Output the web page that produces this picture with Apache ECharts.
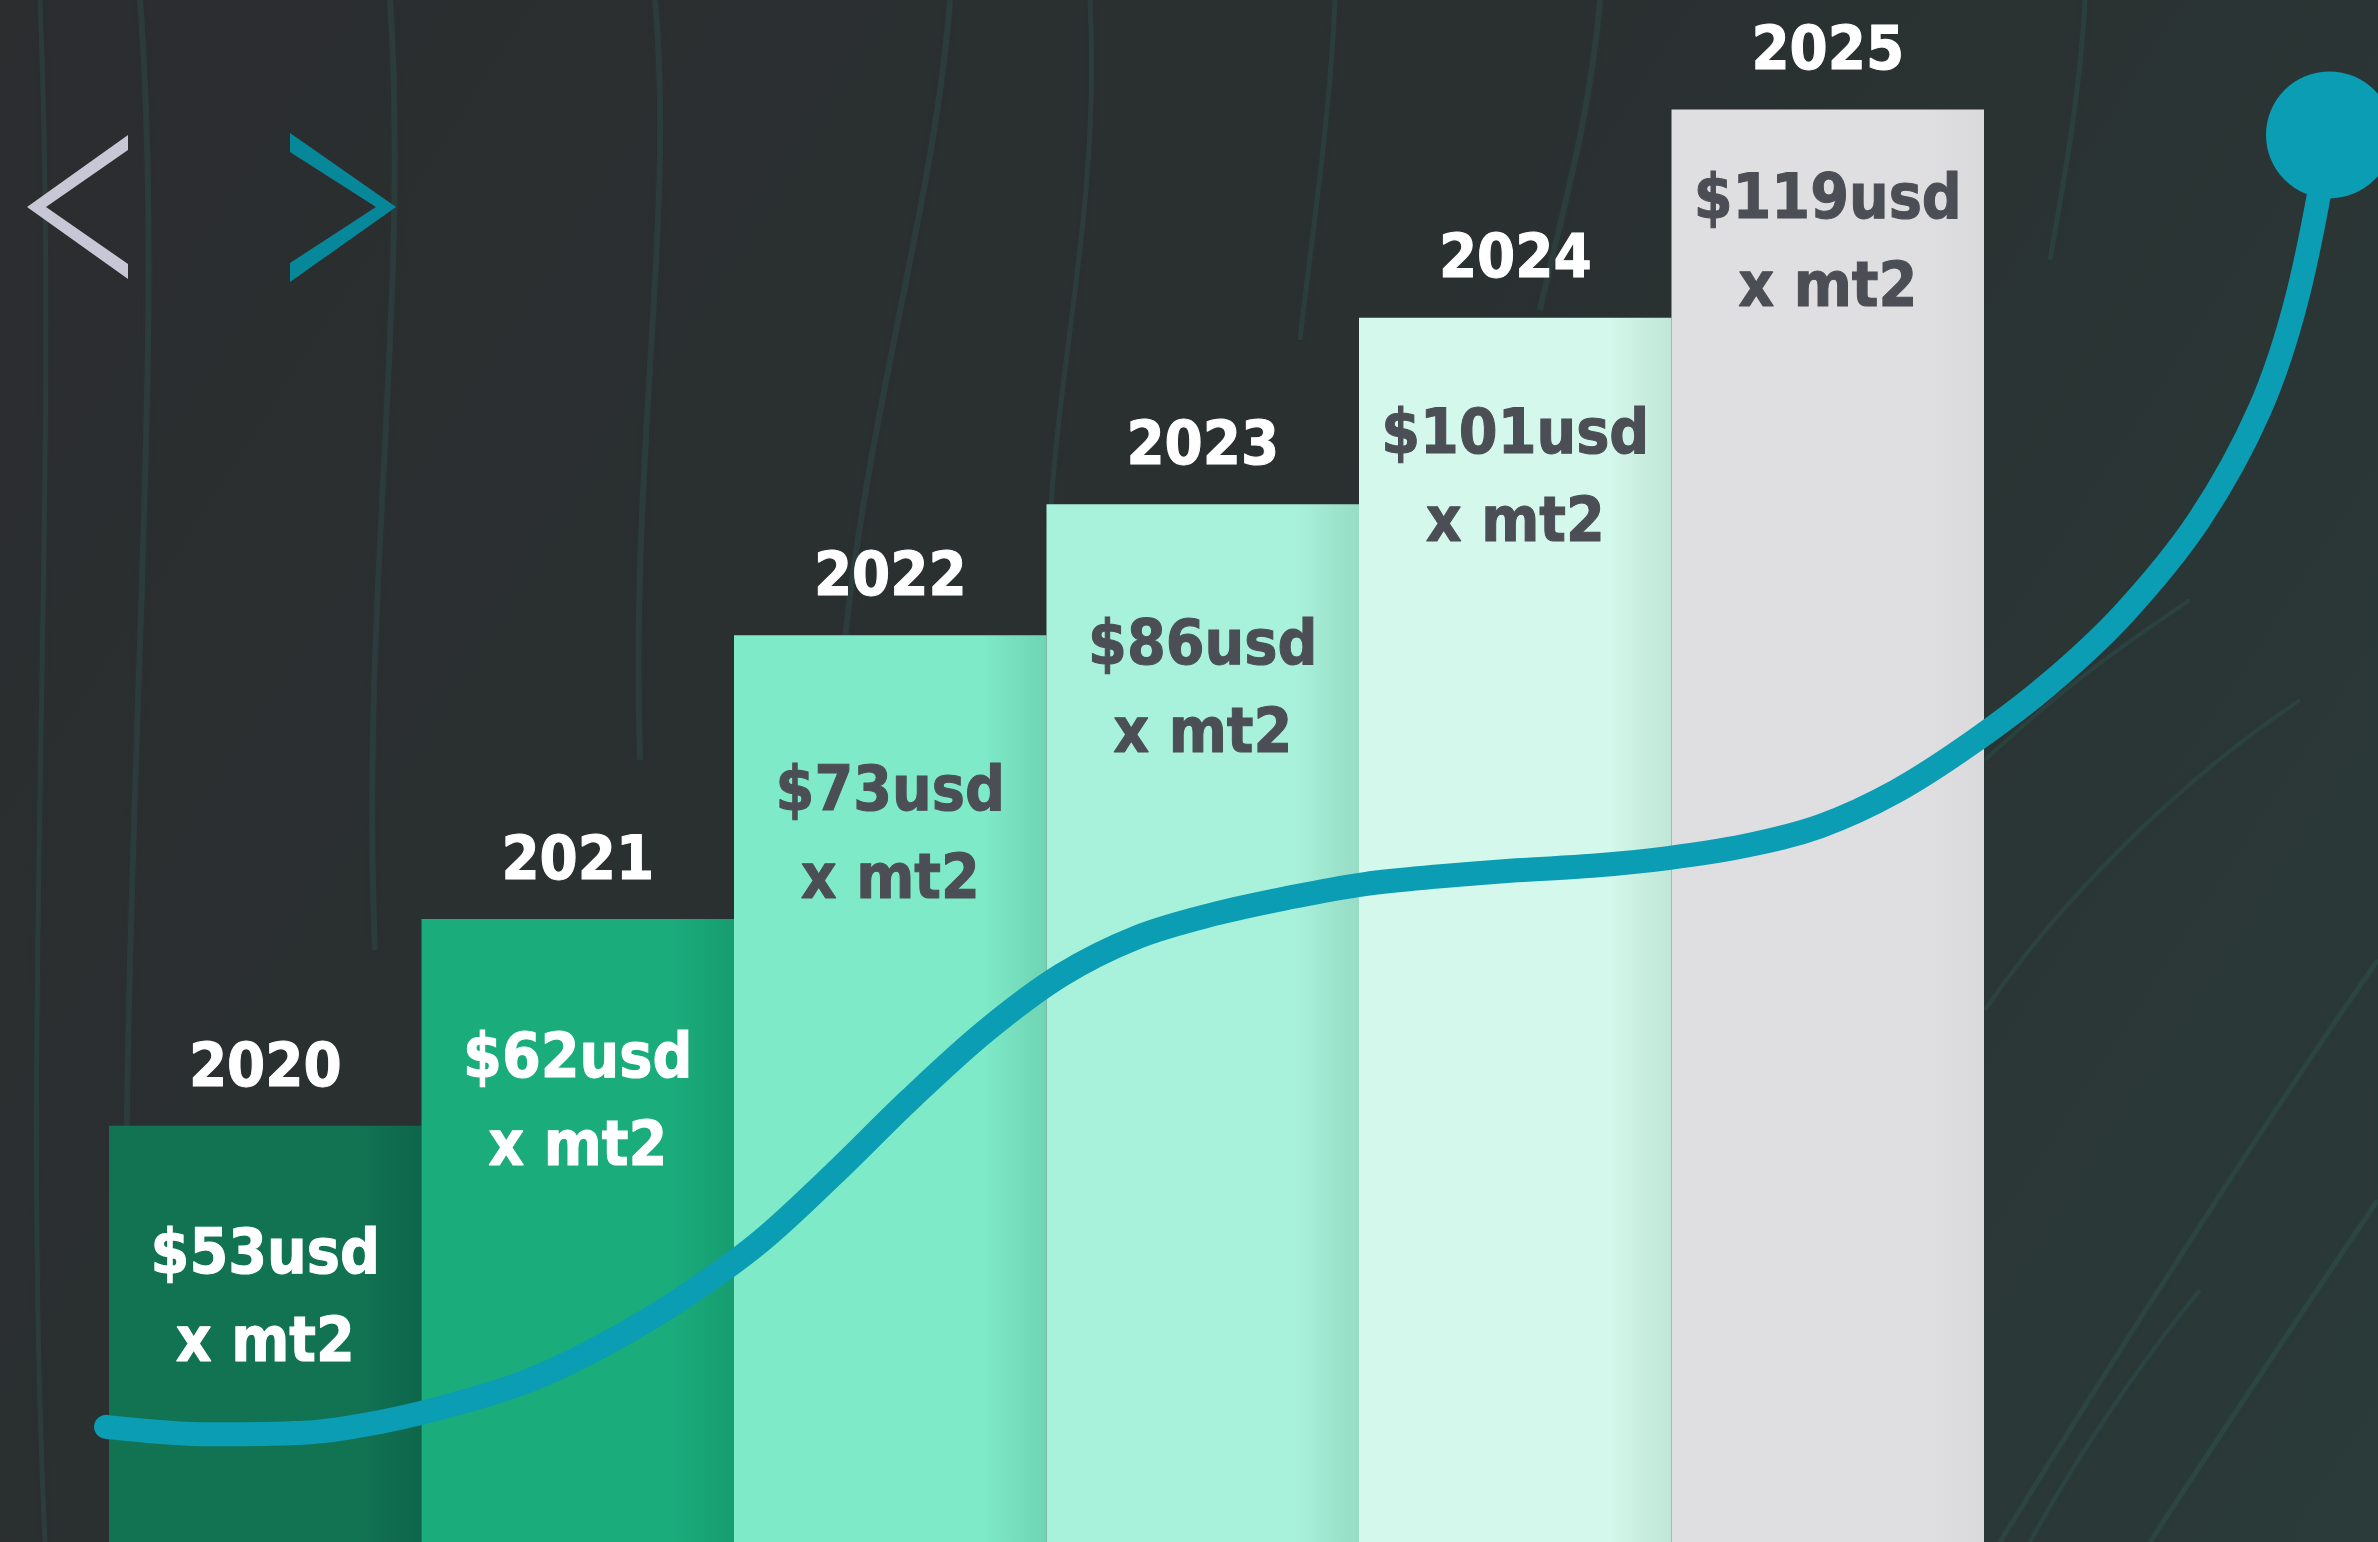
<!DOCTYPE html>
<html><head><meta charset="utf-8">
<script src="https://cdn.jsdelivr.net/npm/echarts@6/dist/echarts.min.js"></script>
<style>html,body{margin:0;padding:0;background:#2b2e2f;}#c{width:2378px;height:1542px;}</style>
</head><body><div id="c"></div>
<script>
// ---- data ----
const years = ['2020', '2021', '2022', '2023', '2024', '2025'];
const priceLabels = ['$53usd', '$62usd', '$73usd', '$86usd', '$101usd', '$119usd'];
const unitLabel = 'x mt2';
// bar heights as % of chart height (as drawn in the picture)
const barHeights = [27.0, 40.4, 58.8, 67.3, 79.4, 92.9];
// decorative trend curve (x % of width, y % of height)
const trendX = [4.46, 8.93, 12.76, 15.94, 19.13, 22.32, 25.51, 28.70, 31.89, 35.08, 38.27, 41.45, 44.64, 47.83, 51.02, 54.21, 57.40, 60.59, 63.78, 66.96, 70.15, 73.34, 76.53, 79.72, 82.91, 86.10, 89.29, 92.47, 95.03, 96.62, 97.96];
const trendY = [7.47, 6.98, 7.08, 7.77, 8.95, 10.52, 12.88, 15.83, 19.37, 23.89, 28.71, 33.14, 36.77, 39.23, 40.71, 41.79, 42.67, 43.17, 43.56, 43.85, 44.35, 45.13, 46.41, 48.67, 51.82, 55.56, 60.18, 66.27, 73.45, 80.83, 91.25];

// ---- styles ----
const barColors = [['#127353', '#0e664a'], ['#1bac7c', '#169d70'], ['#7eeac7', '#6fd4b3'], ['#a8f1da', '#97dcc5'], ['#d4f8eb', '#bfe6d7'], ['#dfdfe1', '#dadadc']];
const textColors = ['#ffffff', '#ffffff', '#4b4e54', '#4b4e54', '#4b4e54', '#4b4e54'];
const labelDist = [87, 98, 115, 100, 75, 48];
const FONT = '"DejaVu Sans Condensed", "DejaVu Sans", Verdana, sans-serif';

const chart = echarts.init(document.getElementById('c'), null, {renderer: 'canvas'});

const barData = barHeights.map((v, i) => ({
  value: v,
  itemStyle: {
    color: new echarts.graphic.LinearGradient(0, 0, 1, 0, [
      {offset: 0, color: barColors[i][0]},
      {offset: 0.8, color: barColors[i][0]},
      {offset: 1, color: barColors[i][1]}
    ])
  },
  label: {
    show: true, position: 'insideTop', distance: labelDist[i],
    formatter: priceLabels[i] + '\n' + unitLabel,
    color: textColors[i], fontFamily: FONT, fontWeight: 'bold', fontSize: 62, lineHeight: 88,
    textBorderColor: textColors[i], textBorderWidth: 1
  }
}));

const yearData = barHeights.map((v, i) => ({
  value: v,
  label: {
    show: true, position: 'top', distance: 21, formatter: years[i],
    color: '#ffffff', fontFamily: FONT, fontWeight: 'bold', fontSize: 61, lineHeight: 70,
    textBorderColor: '#ffffff', textBorderWidth: 1
  }
}));

const trendData = trendX.map((x, i) => [x, trendY[i]]);
const endPoint = [trendData[trendData.length - 1]];

const streak = 'rgba(60,150,140,0.13)';
function curve(x1, y1, c1x, c1y, c2x, c2y, x2, y2, w, col) {
  return {type: 'bezierCurve', silent: true, z: 0,
    shape: {x1: x1, y1: y1, cpx1: c1x, cpy1: c1y, cpx2: c2x, cpy2: c2y, x2: x2, y2: y2},
    style: {stroke: col || streak, lineWidth: w || 6, fill: null, shadowBlur: 8, shadowColor: 'rgba(60,150,140,0.25)'}};
}

chart.setOption({
  backgroundColor: new echarts.graphic.LinearGradient(0, 0, 1, 1, [
    {offset: 0, color: '#2b2d2f'},
    {offset: 0.55, color: '#2a3131'},
    {offset: 1, color: '#2a3b3a'}
  ]),
  animation: false,
  grid: [
    {left: 109, right: 394, top: 0, bottom: 0},
    {left: 0, right: 0, top: 0, bottom: 0}
  ],
  xAxis: [
    {type: 'category', gridIndex: 0, data: years, show: false, boundaryGap: true},
    {type: 'value', gridIndex: 1, min: 0, max: 100, show: false}
  ],
  yAxis: [
    {type: 'value', gridIndex: 0, min: 0, max: 100, show: false},
    {type: 'value', gridIndex: 1, min: 0, max: 100, show: false}
  ],
  graphic: [
    curve(140, 0, 170, 400, 110, 900, 130, 1542, 6),
    curve(40, 0, 60, 500, 20, 1000, 45, 1542, 5),
    curve(390, 0, 410, 300, 360, 600, 375, 950, 6),
    curve(655, 0, 675, 220, 630, 450, 640, 760, 6),
    curve(950, 0, 935, 200, 870, 400, 845, 640, 6),
    curve(1090, 0, 1100, 200, 1060, 350, 1050, 520, 5),
    curve(1335, 0, 1330, 120, 1310, 250, 1300, 340, 5),
    curve(1600, 0, 1590, 120, 1560, 220, 1540, 310, 6),
    curve(2085, 0, 2080, 100, 2060, 200, 2050, 260, 5),
    curve(2000, 1542, 2150, 1300, 2280, 1100, 2378, 960, 5),
    curve(2150, 1542, 2230, 1420, 2310, 1300, 2378, 1200, 5),
    curve(1985, 760, 2050, 700, 2100, 660, 2190, 600, 4),
    curve(1985, 1010, 2060, 900, 2180, 780, 2300, 700, 4),
    curve(2030, 1542, 2080, 1450, 2150, 1350, 2200, 1290, 4),
    {type: 'polygon', silent: true, z: 5,
      shape: {points: [[128, 135], [27, 207], [128, 279], [128, 264], [46, 207], [128, 150]]},
      style: {fill: '#c8c7d6'}},
    {type: 'polygon', silent: true, z: 5,
      shape: {points: [[290, 133], [396, 207], [290, 282], [290, 263], [376, 207], [290, 152]]},
      style: {fill: '#07889a'}}
  ],
  series: [
    {type: 'bar', xAxisIndex: 0, yAxisIndex: 0, data: barData, barWidth: '100%', barCategoryGap: 0, silent: true, z: 2},
    {type: 'bar', xAxisIndex: 0, yAxisIndex: 0, data: yearData, barWidth: '100%', barGap: '-100%', silent: true, z: 3,
      itemStyle: {color: 'rgba(0,0,0,0)'}},
    {type: 'line', xAxisIndex: 1, yAxisIndex: 1, data: trendData, smooth: 0.35, symbol: 'none', silent: true, z: 6,
      lineStyle: {color: '#0a9db3', width: 24, cap: 'round', opacity: 1}},
    {type: 'scatter', xAxisIndex: 1, yAxisIndex: 1, data: endPoint, symbol: 'circle', symbolSize: 127, silent: true, z: 7,
      itemStyle: {color: '#0a9db3', opacity: 1}}
  ]
});
</script>
</body></html>
